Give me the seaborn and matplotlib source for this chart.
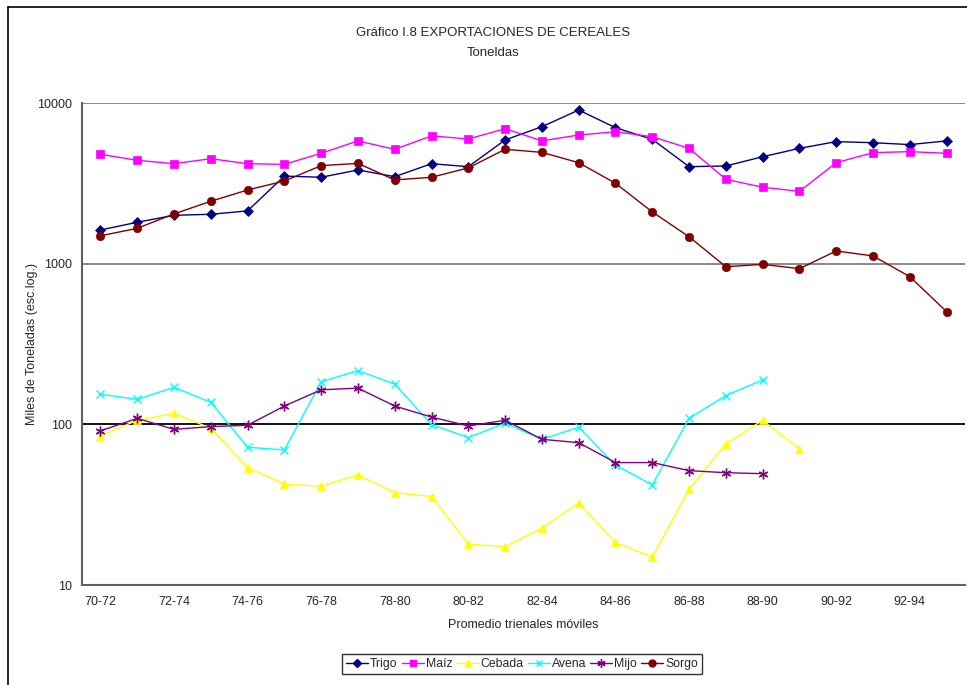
import matplotlib
matplotlib.use("Agg")
import matplotlib.pyplot as plt
from matplotlib.lines import Line2D
from matplotlib.ticker import FixedLocator, NullLocator
import seaborn as sns
import pandas as pd
import numpy as np

periods = ["70-72", "71-73", "72-74", "73-75", "74-76", "75-77", "76-78", "77-79",
           "78-80", "79-81", "80-82", "81-83", "82-84", "83-85", "84-86", "85-87",
           "86-88", "87-89", "88-90", "89-91", "90-92", "91-93", "92-94", "93-95"]

trigo = [1620, 1810, 2000, 2030, 2130, 3510, 3450, 3830, 3480, 4190, 4015, 5890,
         7120, 9040, 7020, 5940, 4015, 4055, 4630, 5220, 5750, 5660, 5510, 5810]
maiz = [4800, 4400, 4190, 4500, 4190, 4150, 4865, 5805, 5150, 6240, 5970, 6920,
        5810, 6320, 6620, 6170, 5220, 3350, 2990, 2820, 4250, 4910, 4980, 4865]
cebada = [84.7, 106, 117, 94.6, 53.8, 42.4, 41.2, 48.4, 37.6, 35.5, 18.0, 17.3,
          22.6, 32.3, 18.4, 14.9, 39.4, 75.5, 106, 70.3]
avena = [154, 143, 170, 137, 72, 69.3, 184, 216, 178, 99.6, 82.7, 101.6,
         80.7, 95.9, 55.8, 42, 109, 151, 189]
mijo = [91, 109, 93, 96.8, 98.7, 130, 164, 168, 130, 111, 97.7, 106,
        80.7, 76.9, 57.8, 57.8, 51.5, 50, 49.3]
sorgo = [1490, 1660, 2040, 2445, 2875, 3270, 4075, 4210, 3320, 3450, 3945, 5150,
         4930, 4250, 3165, 2100, 1470, 957, 990, 931, 1200, 1117, 830, 503]

series = [
    ("Trigo", trigo, "#000080", "D", 5),
    ("Maíz", maiz, "#FF00FF", "s", 6),
    ("Cebada", cebada, "#FFFF00", "^", 6),
    ("Avena", avena, "#00FFFF", "x", 6),
    ("Mijo", mijo, "#800080", (6, 2, 0), 7),
    ("Sorgo", sorgo, "#800000", "o", 6),
]

sns.set_style("white")
plt.rcParams['font.family'] = ['Liberation Sans', 'DejaVu Sans']

fig = plt.figure(figsize=(9.67, 6.85), dpi=100)
ax = fig.add_axes([82 / 967, 1 - 585 / 685, (965 - 82) / 967, (585 - 103) / 685])

handles = []
for name, vals, col, mk, ms in series:
    df = pd.DataFrame({"x": np.arange(len(vals)), "y": vals})
    sns.lineplot(data=df, x="x", y="y", ax=ax, color=col, marker=mk,
                 markersize=ms, linewidth=1.0, markeredgecolor=col,
                 markeredgewidth=1.0 if mk in ("x",) or isinstance(mk, tuple) else 0.5,
                 legend=False, zorder=3)
    handles.append(Line2D([], [], color=col, marker=mk, markersize=ms - 1,
                          markeredgecolor=col, linewidth=1.0, label=name))

ax.set_yscale("log")
ax.set_ylim(10, 10000)
ax.set_xlim(-0.5, len(periods) - 0.5)

# gridlines
for v, c in [(10000, "#808080"), (1000, "#808080"), (100, "#000000")]:
    ax.axhline(v, color=c, linewidth=1.3, zorder=1)

ax.yaxis.set_major_locator(FixedLocator([10, 100, 1000, 10000]))
ax.yaxis.set_minor_locator(NullLocator())
ax.set_yticklabels(["10", "100", "1000", "10000"], fontsize=9)

ax.xaxis.set_major_locator(FixedLocator(np.arange(-0.5, len(periods), 1.0)))
ax.xaxis.set_major_formatter(plt.NullFormatter())
label_pos = np.arange(0, len(periods), 2)
ax.xaxis.set_minor_locator(FixedLocator(label_pos))
ax.set_xticklabels([periods[i] for i in label_pos], minor=True, fontsize=9)
ax.tick_params(axis="x", which="major", length=5, width=1, color="#404040", direction="out")
ax.tick_params(axis="x", which="minor", length=0, pad=8)
ax.tick_params(axis="y", which="major", length=5, width=1, color="#404040", direction="out", pad=2)

for s in ["top", "right"]:
    ax.spines[s].set_visible(False)
for s in ["left", "bottom"]:
    ax.spines[s].set_color("#606060")
    ax.spines[s].set_linewidth(1.5)

ax.set_xlabel("Promedio trienales móviles", fontsize=9, labelpad=8)
ax.set_ylabel("Miles de Toneladas (esc.log.)", fontsize=9)
ax.yaxis.set_label_coords((38 - 82) / 883, 0.5)

fig.text(493 / 967, 1 - 33 / 685, "Gráfico I.8 EXPORTACIONES DE CEREALES", ha="center",
         va="center", fontsize=9.5)
fig.text(493 / 967, 1 - 53 / 685, "Toneldas", ha="center", va="center", fontsize=9.5)

leg = fig.legend(handles=handles, loc="center", bbox_to_anchor=(522 / 967, 1 - 664 / 685),
                 ncol=6, fontsize=8.8, frameon=True, fancybox=False, handlelength=1.8,
                 handletextpad=0.15, columnspacing=0.35, borderpad=0.35, borderaxespad=0)
leg.get_frame().set_edgecolor("black")
leg.get_frame().set_linewidth(1.0)

# figure frame (top and left visible)
fig.add_artist(Line2D([8 / 967, 8 / 967], [0, 1 - 7 / 685], color="black", linewidth=1.2,
                      transform=fig.transFigure))
fig.add_artist(Line2D([8 / 967, 1], [1 - 7 / 685, 1 - 7 / 685], color="black", linewidth=1.2,
                      transform=fig.transFigure))

fig.savefig("out.png", dpi=100)
